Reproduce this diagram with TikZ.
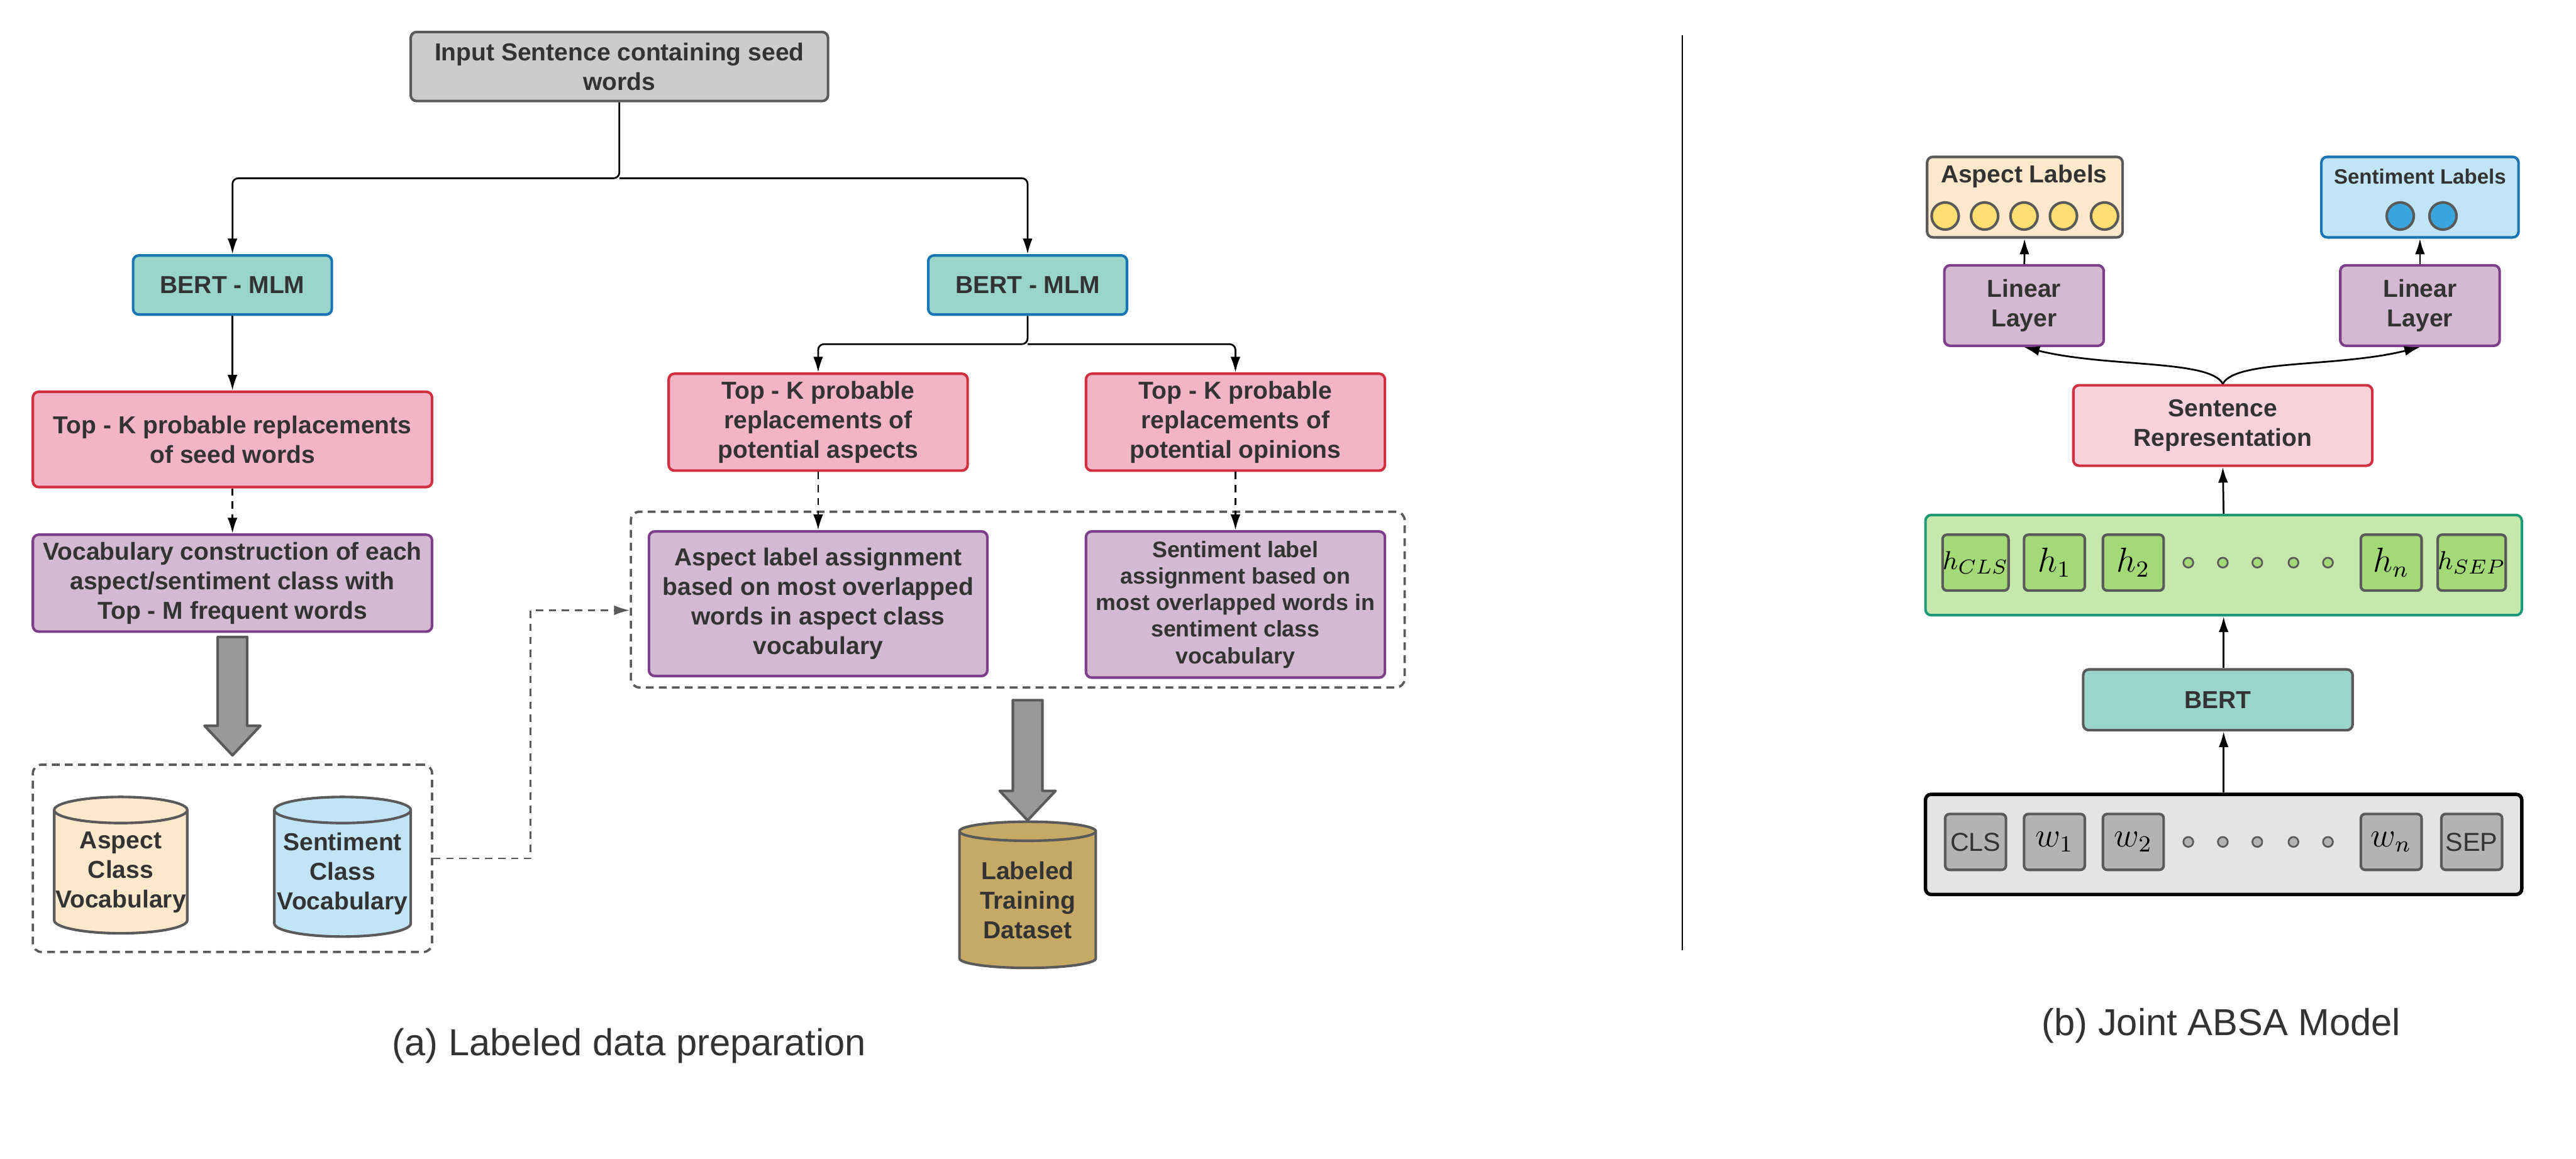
\documentclass[tikz,border=0pt]{standalone}
\usepackage[no-math]{fontspec}
\setmainfont{Liberation Sans}
\usetikzlibrary{arrows.meta,shapes.geometric,calc}

\definecolor{txtgray}{HTML}{333333}
\definecolor{linegray}{HTML}{5A5A5A}
\definecolor{boxgray}{HTML}{CCCCCC}
\definecolor{bertfill}{HTML}{9AD5CA}
\definecolor{bertline}{HTML}{1A75B4}
\definecolor{topkfill}{HTML}{F4B4C7}
\definecolor{redline}{HTML}{D0303F}
\definecolor{lilacfill}{HTML}{D3BAD2}
\definecolor{purpleline}{HTML}{7E3F8A}
\definecolor{peachfill}{HTML}{FFE8CC}
\definecolor{skyfill}{HTML}{C2E4F7}
\definecolor{goldfill}{HTML}{C6A964}
\definecolor{sentfill}{HTML}{F8D1DC}
\definecolor{hidfill}{HTML}{C6E8AD}
\definecolor{hidline}{HTML}{1F9A78}
\definecolor{tokgreen}{HTML}{A3D977}
\definecolor{inpfill}{HTML}{E4E4E4}
\definecolor{tokgray}{HTML}{B3B3B3}
\definecolor{dotyellow}{HTML}{FFDF71}
\definecolor{dotblue}{HTML}{3AA6DD}
\definecolor{arrowfill}{HTML}{999999}

\newcommand{\boxfont}{\fontsize{8.5}{10.2}\selectfont\bfseries}
% 粗箭头：#1 起点，#2 箭尖
\newcommand{\blockarrow}[2]{%
  \draw[fill=arrowfill, draw=linegray, line width=0.9pt, line join=round]
    let \p1=#1, \p2=#2 in
    (\x1-0.18cm,\y1) -- (\x1-0.18cm,\y2+0.36cm) -- (\x1-0.34cm,\y2+0.36cm)
    -- (\x1,\y2) -- (\x1+0.34cm,\y2+0.36cm) -- (\x1+0.18cm,\y2+0.36cm)
    -- (\x1+0.18cm,\y1) -- cycle;}

\begin{document}
\begin{tikzpicture}[>={Latex[length=1.9mm,width=1.2mm]}, line join=round,
  box/.style={draw, rounded corners=2pt, line width=0.9pt, text=txtgray,
    align=center, font=\boxfont, inner sep=1pt},
  conn/.style={->, line width=0.6pt},
  dconn/.style={->, line width=0.6pt, dash pattern=on 2.5pt off 2pt},
  group/.style={draw=linegray, dash pattern=on 2.7pt off 1.8pt, line width=0.8pt,
    rounded corners=3pt},
  db/.style={cylinder, shape border rotate=90, aspect=0.2, draw=linegray,
    line width=0.9pt, text=txtgray, align=center, font=\boxfont, inner sep=0pt},
  tok/.style={draw=linegray, rounded corners=1.5pt, line width=0.9pt,
    minimum width=0.74cm, minimum height=0.68cm, inner sep=0pt, text=black,
    font=\fontsize{11.5}{13}\selectfont},
  tokdot/.style={circle, draw=linegray, line width=0.6pt, minimum size=0.12cm,
    inner sep=0pt},
  labdot/.style={circle, draw=linegray, line width=0.9pt, minimum size=0.33cm,
    inner sep=0pt},
  caption/.style={text=txtgray, font=\fontsize{13}{15}\selectfont}]
\useasboundingbox (0,0) rectangle (31.36,14.11);

% (a) 输入句子与 BERT-MLM
\node[box, fill=boxgray, draw=linegray, minimum width=5.08cm, minimum height=0.84cm]
  (input) at (7.54,13.30) {Input Sentence containing seed\\words};
\node[box, fill=bertfill, draw=bertline, minimum width=2.42cm, minimum height=0.72cm]
  (bertL) at (2.83,10.64) {BERT - MLM};
\node[box, fill=bertfill, draw=bertline, minimum width=2.42cm, minimum height=0.72cm]
  (bertR) at (12.51,10.64) {BERT - MLM};
\coordinate (split1) at (7.54,11.94);
\draw[conn, rounded corners=2pt] (input.south) -- (split1) -| (bertL.north);
\draw[conn, rounded corners=2pt] (split1) -| (bertR.north);

% Top-K 替换
\node[box, fill=topkfill, draw=redline, minimum width=4.86cm, minimum height=1.16cm]
  (topkL) at (2.83,8.76) {Top - K probable replacements\\of seed words};
\node[box, fill=topkfill, draw=redline, minimum width=3.64cm, minimum height=1.18cm]
  (topkA) at (9.96,8.97) {Top - K probable\\replacements of\\potential aspects};
\node[box, fill=topkfill, draw=redline, minimum width=3.64cm, minimum height=1.18cm]
  (topkO) at (15.04,8.97) {Top - K probable\\replacements of\\potential opinions};
\draw[conn] (bertL) -- (topkL);
\coordinate (split2) at (12.51,9.92);
\draw[conn, rounded corners=2pt] (bertR.south) -- (split2) -| (topkA.north);
\draw[conn, rounded corners=2pt] (split2) -| (topkO.north);

% 词表构建
\node[box, fill=lilacfill, draw=purpleline, minimum width=4.86cm, minimum height=1.18cm]
  (vocab) at (2.83,7.01) {Vocabulary construction of each\\aspect/sentiment class with\\Top - M frequent words};
\draw[dconn] (topkL) -- (vocab);
\node[group, minimum width=4.86cm, minimum height=2.28cm] (grpvocab) at (2.83,3.66) {};
\node[db, fill=peachfill, minimum width=1.62cm, minimum height=1.66cm]
  (cylA) at (1.47,3.49) {Aspect\\Class\\Vocabulary};
\node[db, fill=skyfill, minimum width=1.66cm, minimum height=1.70cm]
  (cylS) at (4.17,3.47) {Sentiment\\Class\\Vocabulary};
\blockarrow{([yshift=-0.5mm]vocab.south)}{([yshift=1mm]grpvocab.north)}

% 标签分配
\node[group, minimum width=9.42cm, minimum height=2.14cm] (grpassign) at (12.39,6.81) {};
\node[box, fill=lilacfill, draw=purpleline, minimum width=4.12cm, minimum height=1.76cm]
  (asgA) at (9.96,6.76) {Aspect label assignment\\based on most overlapped\\words in aspect class\\vocabulary};
\node[box, fill=lilacfill, draw=purpleline, minimum width=3.64cm, minimum height=1.78cm,
  font=\fontsize{7.8}{9.2}\selectfont\bfseries]
  (asgS) at (15.04,6.75) {Sentiment label\\assignment based on\\most overlapped words in\\sentiment class\\vocabulary};
\draw[dconn] (topkA) -- (asgA);
\draw[dconn] (topkO) -- (asgS);
\coordinate (bend) at (6.46,6.68);
\draw[dconn, draw=linegray] (grpvocab.east) -| (bend) -- (bend -| grpassign.west);

% 训练集
\node[db, fill=goldfill, minimum width=1.66cm, minimum height=1.78cm]
  (dataset) at (12.51,3.15) {Labeled\\Training\\Dataset};
\coordinate (dstop) at (grpassign.south -| dataset.north);
\blockarrow{([yshift=-1.4mm]dstop)}{(dataset.north)}
\node[caption] (capA) at (7.66,1.38) {(a) Labeled data preparation};

% 分隔线
\draw[line width=0.6pt] (20.48,13.68) -- (20.48,2.54);

% (b) 输出标签
\node[box, fill=peachfill, draw=linegray, minimum width=2.38cm, minimum height=0.98cm]
  (asplab) at (24.65,11.71) {};
\node[text=txtgray, font=\boxfont, inner sep=0pt] (asplabtxt) at (24.64,11.96) {Aspect Labels};
\foreach \i/\x in {1/23.68,2/24.16,3/24.64,4/25.12,5/25.62}
  \node[labdot, fill=dotyellow] (ya\i) at (\x,11.48) {};
\node[box, fill=skyfill, draw=bertline, minimum width=2.40cm, minimum height=0.98cm]
  (senlab) at (29.46,11.71) {};
\node[text=txtgray, font=\fontsize{7.2}{8.6}\selectfont\bfseries, inner sep=0pt]
  (senlabtxt) at (29.46,11.96) {Sentiment Labels};
\foreach \i/\x in {1/29.22,2/29.74}
  \node[labdot, fill=dotblue] (sb\i) at (\x,11.48) {};

% 线性层与句子表示
\node[box, fill=lilacfill, draw=purpleline, minimum width=1.94cm, minimum height=0.98cm]
  (linL) at (24.64,10.39) {Linear\\Layer};
\node[box, fill=lilacfill, draw=purpleline, minimum width=1.94cm, minimum height=0.98cm]
  (linR) at (29.46,10.39) {Linear\\Layer};
\node[box, fill=sentfill, draw=redline, minimum width=3.64cm, minimum height=0.98cm]
  (sent) at (27.06,8.93) {Sentence\\Representation};
\draw[conn] (linL) -- (asplab);
\draw[conn] (linR) -- (senlab);
\draw[conn] (sent.north) .. controls +(-0.15,0.3) and +(1.0,-0.25) .. (linL.south);
\draw[conn] (sent.north) .. controls +(0.15,0.3) and +(-1.0,-0.25) .. (linR.south);

% 隐状态
\node[box, fill=hidfill, draw=hidline, minimum width=7.26cm, minimum height=1.22cm]
  (hid) at (27.07,7.23) {};
\foreach \n/\x/\t in {hcls/24.05/{\fontsize{9.5}{10}\selectfont$h_{CLS}$}, h1/25.01/$h_1$,
    h2/25.97/$h_2$, hn/29.11/$h_n$, hsep/30.09/{\fontsize{9.5}{10}\selectfont$h_{SEP}$}}
  \node[tok, fill=tokgreen] (\n) at (\x,7.26) {\t};
\draw[conn] (hid.north) -- (sent.south);

% BERT 与输入
\node[box, fill=bertfill, draw=linegray, minimum width=3.28cm, minimum height=0.74cm]
  (bert) at (27.00,5.59) {BERT};
\node[box, fill=inpfill, draw=black, line width=1.2pt, minimum width=7.26cm, minimum height=1.22cm]
  (inp) at (27.07,3.83) {};
\foreach \n/\x/\t in {tcls/24.05/{\fontsize{9}{10}\selectfont\color{txtgray}CLS}, w1/25.01/$w_1$,
    w2/25.97/$w_2$, wn/29.11/$w_n$, tsep/30.09/{\fontsize{9}{10}\selectfont\color{txtgray}SEP}}
  \node[tok, fill=tokgray] (\n) at (\x,3.86) {\t};
\foreach \x [count=\i] in {26.64,27.06,27.48,27.92,28.34} {
  \node[tokdot, fill=tokgreen] (hd\i) at (\x,7.26) {};
  \node[tokdot, fill=tokgray] (wd\i) at (\x,3.86) {};
}
\draw[conn] (hid.south |- bert.north) -- (hid.south);
\draw[conn] (inp.north) -- (inp.north |- bert.south);
\node[caption] (capB) at (27.04,1.62) {(b) Joint ABSA Model};
\end{tikzpicture}
\end{document}
